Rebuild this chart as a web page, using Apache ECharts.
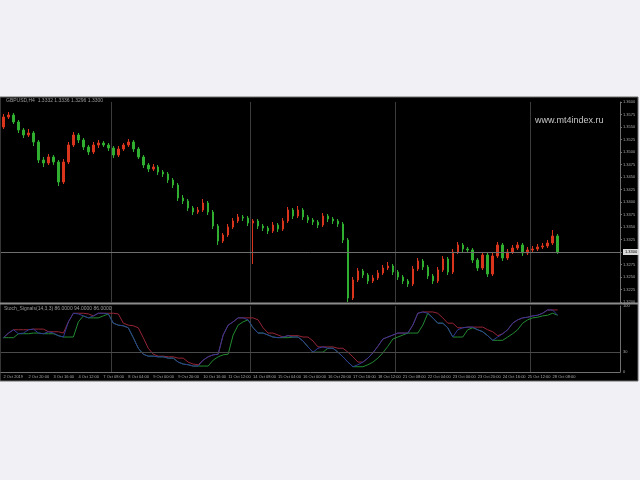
<!DOCTYPE html>
<html>
<head>
<meta charset="utf-8">
<script src="https://cdn.jsdelivr.net/npm/echarts@6/dist/echarts.min.js"></script>
<style>
html,body{margin:0;padding:0;background:#f1f1f5;}
#c{width:640px;height:480px;}
</style>
</head>
<body>
<div id="c"></div>
<script>
// ---- data ----
const symbolLabel = 'GBPUSD,H4  1.3332 1.3336 1.3296 1.3300';
const indicatorLabel = 'Stoch_Signals(14,3,3) 86.0000 94.0000 86.0000';
const watermark = 'www.mt4index.ru';
const timeLabels = ['2 Oct 2019','2 Oct 20:00','3 Oct 16:00','4 Oct 12:00','7 Oct 08:00','8 Oct 04:00',
  '9 Oct 00:00','9 Oct 20:00','10 Oct 16:00','11 Oct 12:00','14 Oct 08:00','15 Oct 04:00','16 Oct 00:00',
  '16 Oct 20:00','17 Oct 16:00','18 Oct 12:00','21 Oct 08:00','22 Oct 04:00','23 Oct 00:00','23 Oct 20:00',
  '24 Oct 16:00','25 Oct 12:00','28 Oct 08:00'];
const opens = [1.3550,1.3570,1.3574,1.3560,1.3544,1.3534,1.3538,1.3520,1.3484,1.3478,
 1.3490,1.3480,1.3440,1.3480,1.3514,1.3534,1.3524,1.3510,1.3500,1.3514,
 1.3518,1.3514,1.3508,1.3494,1.3506,1.3514,1.3520,1.3506,1.3490,1.3474,
 1.3466,1.3470,1.3460,1.3456,1.3444,1.3434,1.3408,1.3402,1.3388,1.3380,
 1.3384,1.3398,1.3380,1.3352,1.3322,1.3334,1.3350,1.3362,1.3370,1.3368,
 1.3358,1.3362,1.3352,1.3348,1.3342,1.3354,1.3346,1.3362,1.3384,1.3372,
 1.3384,1.3370,1.3364,1.3360,1.3354,1.3372,1.3366,1.3362,1.3356,1.3324,
 1.3208,1.3244,1.3262,1.3254,1.3242,1.3248,1.3258,1.3268,1.3272,1.3260,
 1.3250,1.3242,1.3236,1.3266,1.3282,1.3270,1.3252,1.3242,1.3264,1.3286,
 1.3260,1.3300,1.3314,1.3306,1.3304,1.3284,1.3268,1.3294,1.3256,1.3292,
 1.3314,1.3288,1.3300,1.3308,1.3314,1.3298,1.3304,1.3306,1.3310,1.3312,
 1.3318,1.3332];
const closes = [1.3570,1.3574,1.3560,1.3544,1.3534,1.3538,1.3520,1.3484,1.3478,1.3490,
 1.3480,1.3440,1.3480,1.3514,1.3534,1.3524,1.3510,1.3500,1.3514,1.3518,
 1.3514,1.3508,1.3494,1.3506,1.3514,1.3520,1.3506,1.3490,1.3474,1.3466,
 1.3470,1.3460,1.3456,1.3444,1.3434,1.3408,1.3402,1.3388,1.3380,1.3384,
 1.3398,1.3380,1.3352,1.3322,1.3334,1.3350,1.3362,1.3370,1.3368,1.3358,
 1.3362,1.3352,1.3348,1.3342,1.3354,1.3346,1.3362,1.3384,1.3372,1.3384,
 1.3370,1.3364,1.3360,1.3354,1.3372,1.3366,1.3362,1.3356,1.3324,1.3208,
 1.3244,1.3262,1.3254,1.3242,1.3248,1.3258,1.3268,1.3272,1.3260,1.3250,
 1.3242,1.3236,1.3266,1.3282,1.3270,1.3252,1.3242,1.3264,1.3286,1.3260,
 1.3300,1.3314,1.3306,1.3304,1.3284,1.3268,1.3294,1.3256,1.3292,1.3314,
 1.3288,1.3300,1.3308,1.3314,1.3298,1.3304,1.3306,1.3310,1.3312,1.3318,
 1.3332,1.3300];
const highs = [1.3576,1.3580,1.3578,1.3564,1.3548,1.3546,1.3542,1.3524,1.3490,1.3496,
 1.3494,1.3484,1.3486,1.3520,1.3540,1.3538,1.3528,1.3514,1.3520,1.3524,
 1.3522,1.3518,1.3512,1.3512,1.3518,1.3526,1.3524,1.3510,1.3494,1.3478,
 1.3476,1.3474,1.3464,1.3460,1.3448,1.3438,1.3414,1.3406,1.3392,1.3390,
 1.3406,1.3402,1.3384,1.3356,1.3338,1.3356,1.3368,1.3376,1.3374,1.3372,
 1.3366,1.3366,1.3356,1.3352,1.3360,1.3358,1.3368,1.3390,1.3388,1.3392,
 1.3388,1.3374,1.3368,1.3364,1.3378,1.3376,1.3370,1.3366,1.3360,1.3328,
 1.3250,1.3268,1.3266,1.3258,1.3254,1.3264,1.3274,1.3280,1.3276,1.3264,
 1.3254,1.3246,1.3272,1.3288,1.3286,1.3274,1.3256,1.3270,1.3292,1.3290,
 1.3306,1.3320,1.3318,1.3310,1.3308,1.3288,1.3300,1.3298,1.3298,1.3320,
 1.3318,1.3306,1.3314,1.3320,1.3318,1.3310,1.3312,1.3316,1.3318,1.3324,
 1.3344,1.3336];
const lows = [1.3546,1.3566,1.3556,1.3538,1.3528,1.3530,1.3512,1.3478,1.3470,1.3474,
 1.3474,1.3432,1.3436,1.3476,1.3510,1.3518,1.3504,1.3494,1.3496,1.3508,
 1.3510,1.3502,1.3488,1.3490,1.3502,1.3510,1.3500,1.3486,1.3468,1.3460,
 1.3462,1.3454,1.3450,1.3438,1.3428,1.3402,1.3396,1.3382,1.3374,1.3376,
 1.3380,1.3374,1.3346,1.3314,1.3318,1.3330,1.3346,1.3358,1.3362,1.3352,
 1.3276,1.3346,1.3342,1.3336,1.3338,1.3340,1.3342,1.3358,1.3366,1.3368,
 1.3364,1.3358,1.3354,1.3348,1.3350,1.3360,1.3356,1.3350,1.3318,1.3200,
 1.3204,1.3240,1.3248,1.3236,1.3238,1.3244,1.3254,1.3264,1.3254,1.3244,
 1.3236,1.3230,1.3232,1.3262,1.3264,1.3246,1.3236,1.3238,1.3260,1.3254,
 1.3256,1.3296,1.3300,1.3298,1.3278,1.3262,1.3264,1.3250,1.3252,1.3288,
 1.3282,1.3284,1.3296,1.3304,1.3292,1.3294,1.3300,1.3302,1.3306,1.3308,
 1.3314,1.3296];
const oscMain = [52,59,64,58,59,64,65,59,58,61, 59,55,53,76,89,88,85,82,85,89,
 89,88,74,71,70,67,52,36,27,24, 24,23,23,21,21,15,12,11,9,9,
 18,23,26,27,56,71,76,82,82,79, 67,59,59,56,53,52,53,55,53,53,
 47,38,30,36,38,36,36,30,23,15, 8,11,15,21,29,39,50,53,56,59,
 59,59,71,89,91,89,82,74,74,67, 53,64,67,68,68,64,61,55,48,53,
 58,64,74,79,82,83,85,86,89,94, 94,86];
const oscUpper = [52,59,64,64,64,64,65,65,65,61, 61,61,59,76,89,89,89,88,85,89,
 89,89,89,88,74,71,70,67,52,36, 27,24,24,23,23,21,21,15,12,11,
 18,23,26,27,56,71,76,82,82,82, 82,79,67,59,59,56,53,55,55,55,
 53,53,47,38,38,38,38,36,36,30, 23,15,15,21,29,39,50,53,56,59,
 59,59,71,89,91,91,91,89,82,74, 74,67,67,68,68,68,68,64,61,55,
 58,64,74,79,82,83,85,86,89,94, 94,94];
const oscLower = [52,52,52,58,58,58,59,59,58,58, 58,55,53,53,53,76,85,82,82,82,
 85,88,74,71,70,67,52,36,27,24, 24,23,23,21,21,15,12,11,9,9,
 9,9,18,23,26,27,56,71,76,79, 67,59,59,56,53,52,52,52,53,53,
 47,38,30,30,30,36,36,30,23,15, 8,8,8,11,15,21,29,39,50,53,
 56,59,59,59,71,89,82,74,74,67, 53,53,53,64,67,64,61,55,48,48,
 48,53,58,64,74,79,82,83,85,86, 89,86];
const oscLevel = 30;
const TOTAL_SLOTS = 124;

// ---- build ----
const categories = [];
for (let i = 0; i < TOTAL_SLOTS; i++) {
  categories.push(i % 5 === 0 && timeLabels[i / 5] ? timeLabels[i / 5] : '');
}
const candleData = closes.map((c, i) => [opens[i], c, lows[i], highs[i]]);
const gridIdx = [22, 50, 79, 106];
const vSplit = {show: true, interval: (idx) => gridIdx.indexOf(idx) >= 0, lineStyle: {color: '#3c3c3c', width: 1}};

const chart = echarts.init(document.getElementById('c'), null, {renderer: 'canvas'});
chart.setOption({
  animation: false,
  backgroundColor: '#f1f1f5',
  graphic: [
    {type: 'rect', z: -10, silent: true, shape: {x: 0, y: 97, width: 638, height: 284}, style: {fill: '#000', stroke: '#6a6a6a', lineWidth: 1}},
    {type: 'rect', z: 10, silent: true, shape: {x: 0, y: 302.5, width: 638, height: 2}, style: {fill: '#8c8c8c'}},
    {type: 'text', z: 10, silent: true, left: 6, top: 98, style: {text: symbolLabel, fill: '#9a9a9a', font: '5px sans-serif'}},
    {type: 'text', z: 10, silent: true, left: 4, top: 306, style: {text: indicatorLabel, fill: '#9a9a9a', font: '5px sans-serif'}},
    {type: 'text', z: 10, silent: true, left: 535, top: 116, style: {text: watermark, fill: '#c8c8c8', font: '9px sans-serif'}}
  ],
  grid: [
    {left: 1, top: 102, width: 619, height: 200},
    {left: 1, top: 306, width: 619, height: 66}
  ],
  xAxis: [
    {type: 'category', gridIndex: 0, data: categories, boundaryGap: true,
     axisLine: {show: false}, axisTick: {show: false}, axisLabel: {show: false}, splitLine: vSplit},
    {type: 'category', gridIndex: 1, data: categories, boundaryGap: true,
     axisLine: {show: true, lineStyle: {color: '#707070'}}, axisTick: {show: false},
     axisLabel: {show: true, interval: 0, color: '#a8a8a8', fontSize: 4, margin: 3, align: 'left', fontFamily: 'sans-serif'},
     splitLine: vSplit}
  ],
  yAxis: [
    {type: 'value', gridIndex: 0, position: 'right', min: 1.32, max: 1.36, interval: 0.0025,
     axisLine: {show: true, lineStyle: {color: '#707070'}}, axisTick: {show: true, length: 2, lineStyle: {color: '#707070'}},
     axisLabel: {color: '#a8a8a8', fontSize: 4, margin: 3, formatter: (v) => v.toFixed(4)},
     splitLine: {show: false}},
    {type: 'value', gridIndex: 1, position: 'right', min: 0, max: 100, interval: 10,
     axisLine: {show: true, lineStyle: {color: '#707070'}}, axisTick: {show: false},
     axisLabel: {color: '#a8a8a8', fontSize: 4, margin: 3, formatter: (v) => (v === 100 || v === oscLevel || v === 0) ? String(v) : ''},
     splitLine: {show: false}}
  ],
  series: [
    {type: 'candlestick', xAxisIndex: 0, yAxisIndex: 0, data: candleData, barWidth: 2,
     itemStyle: {color: '#d8351c', color0: '#2fae2f', borderColor: '#d8351c', borderColor0: '#2fae2f', borderWidth: 1},
     markLine: {silent: true, symbol: 'none', animation: false,
       lineStyle: {color: '#6e6e6e', type: 'solid', width: 1},
       label: {show: true, position: 'end', formatter: (p) => p.value.toFixed(4), color: '#000', backgroundColor: '#d8d8d8', fontSize: 4, padding: [1, 2], distance: 3},
       data: [{yAxis: closes[closes.length - 1]}]}},
    {type: 'line', xAxisIndex: 1, yAxisIndex: 1, data: oscUpper, showSymbol: false, lineStyle: {color: '#962436', width: 1}, z: 2},
    {type: 'line', xAxisIndex: 1, yAxisIndex: 1, data: oscLower, showSymbol: false, lineStyle: {color: '#228a32', width: 1}, z: 2},
    {type: 'line', xAxisIndex: 1, yAxisIndex: 1, data: oscMain, showSymbol: false, lineStyle: {color: '#2e3a96', width: 1}, z: 3,
     markLine: {silent: true, symbol: 'none', animation: false, label: {show: false},
       lineStyle: {color: '#4a4a4a', type: 'solid', width: 1}, data: [{yAxis: oscLevel}]}}
  ]
});
</script>
</body>
</html>
